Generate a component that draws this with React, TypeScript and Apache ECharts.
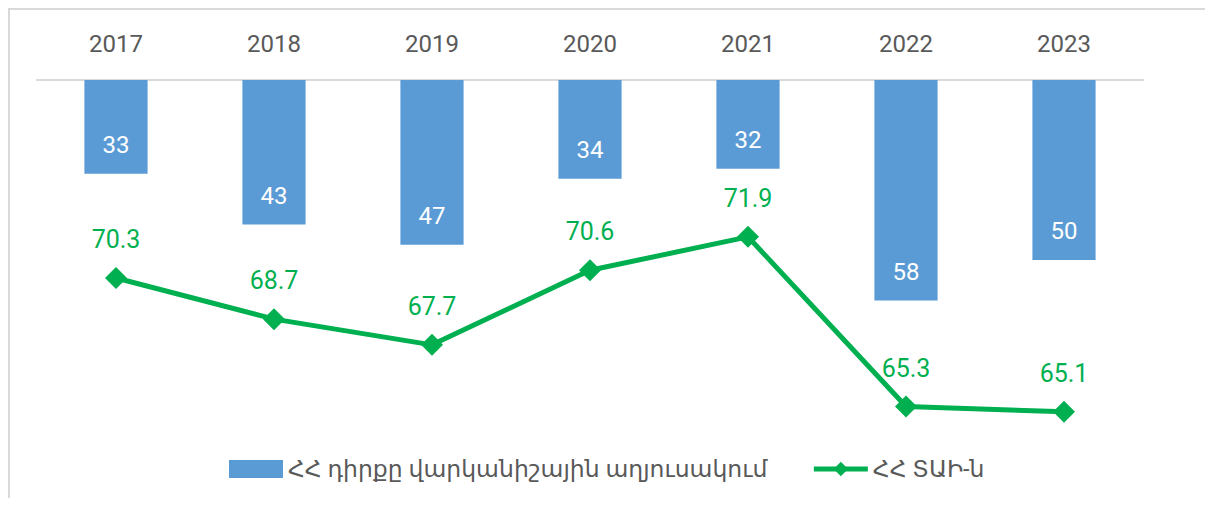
import React, { useEffect, useRef } from "react";
import * as echarts from "echarts";

const years = ["2017", "2018", "2019", "2020", "2021", "2022", "2023"];
const rankValues = [33, 43, 47, 34, 32, 58, 50];
const indexValues = [70.3, 68.7, 67.7, 70.6, 71.9, 65.3, 65.1];
const rankName = "ՀՀ դիրքը վարկանիշային աղյուսակում";
const indexName = "ՀՀ ՏԱԻ-ն";

const FONT = "Roboto, 'DejaVu Sans', sans-serif";

export default function App() {
  const ref = useRef<HTMLDivElement>(null);
  useEffect(() => {
    if (!ref.current) return;
    const chart = echarts.init(ref.current, null, { renderer: "svg" });
    chart.setOption({
      animation: false,
      textStyle: { fontFamily: FONT },
      grid: { left: 27, top: 70, width: 1106, height: 360 },
      legend: {
        left: 214,
        top: 442,
        itemWidth: 54,
        itemHeight: 18,
        itemGap: 44,
        textStyle: { fontSize: 23.5, color: "#595959", fontFamily: FONT },
        data: [
          { name: rankName, icon: "rect" },
          { name: indexName, lineStyle: { width: 5, color: "#00b050" } },
        ],
      },
      xAxis: {
        type: "category",
        position: "top",
        data: years,
        axisLine: { show: true, lineStyle: { color: "#d9d9d9", width: 2 } },
        axisTick: { show: false },
        axisLabel: { fontSize: 24, color: "#595959", margin: 24, fontFamily: FONT },
      },
      yAxis: [
        {
          type: "value",
          inverse: true,
          min: 14.5,
          max: 85.5,
          show: false,
          splitLine: { show: false },
        },
        {
          type: "value",
          min: 64,
          max: 78,
          show: false,
          splitLine: { show: false },
        },
      ],
      series: [
        {
          name: rankName,
          type: "bar",
          yAxisIndex: 0,
          data: rankValues,
          barWidth: "40%",
          clip: true,
          itemStyle: { color: "#5b9bd5" },
          label: {
            show: true,
            position: "insideBottom",
            distance: 17,
            color: "#ffffff",
            fontSize: 24,
            fontFamily: FONT,
          },
        },
        {
          name: indexName,
          type: "line",
          yAxisIndex: 1,
          data: indexValues,
          symbol: "diamond",
          symbolSize: 22,
          lineStyle: { color: "#00b050", width: 5 },
          itemStyle: { color: "#00b050" },
          label: {
            show: true,
            position: "top",
            distance: 15,
            color: "#00b050",
            fontSize: 25,
            fontFamily: FONT,
          },
        },
      ],
    });
    return () => chart.dispose();
  }, []);
  return (
    <div
      style={{
        width: 1205,
        height: 490,
        borderTop: "2px solid #d9d9d9",
        borderLeft: "2px solid #d9d9d9",
        boxSizing: "border-box",
      }}
    >
      <div ref={ref} style={{ width: 1203, height: 488 }} />
    </div>
  );
}
